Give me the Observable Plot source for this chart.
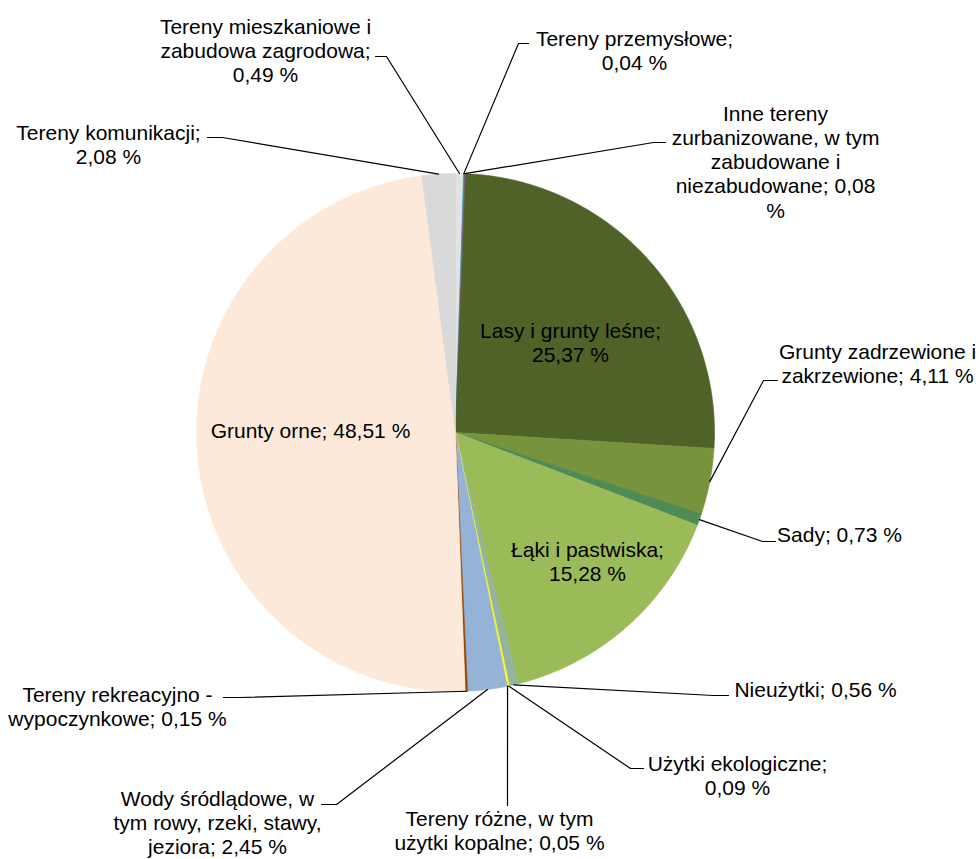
<!DOCTYPE html>
<html>
<head>
<meta charset="utf-8">
<script src="https://cdn.jsdelivr.net/npm/d3@7"></script>
<script src="https://cdn.jsdelivr.net/npm/@observablehq/plot@0.6"></script>
<style>
  html, body { margin: 0; padding: 0; background: #ffffff; }
  #chart { width: 979px; height: 859px; }
</style>
</head>
<body>
<div id="chart"></div>
<script>
// ---- data (clockwise from 12 o'clock) ----
const categories = [
  "Tereny mieszkaniowe i zabudowa zagrodowa",
  "Tereny przemysłowe",
  "Inne tereny zurbanizowane, w tym zabudowane i niezabudowane",
  "Lasy i grunty leśne",
  "Grunty zadrzewione i zakrzewione",
  "Sady",
  "Łąki i pastwiska",
  "Nieużytki",
  "Użytki ekologiczne",
  "Tereny różne, w tym użytki kopalne",
  "Wody śródlądowe, w tym rowy, rzeki, stawy, jeziora",
  "Tereny rekreacyjno - wypoczynkowe",
  "Grunty orne",
  "Tereny komunikacji"
];
const values = [0.49, 0.04, 0.08, 25.37, 4.11, 0.73, 15.28, 0.56, 0.09, 0.05, 2.45, 0.15, 48.51, 2.08];
const labelTexts = [
  "Tereny mieszkaniowe i\nzabudowa zagrodowa;\n0,49 %",
  "Tereny przemysłowe;\n0,04 %",
  "Inne tereny\nzurbanizowane, w tym\nzabudowane i\nniezabudowane; 0,08\n%",
  "Lasy i grunty leśne;\n25,37 %",
  "Grunty zadrzewione i\nzakrzewione; 4,11 %",
  "Sady; 0,73 %",
  "Łąki i pastwiska;\n15,28 %",
  "Nieużytki; 0,56 %",
  "Użytki ekologiczne;\n0,09 %",
  "Tereny różne, w tym\nużytki kopalne; 0,05 %",
  "Wody śródlądowe, w\ntym rowy, rzeki, stawy,\njeziora; 2,45 %",
  "Tereny rekreacyjno -\nwypoczynkowe; 0,15 %",
  "Grunty orne; 48,51 %",
  "Tereny komunikacji;\n2,08 %"
];
const colors = [
  "#E2E2E2", "#4BACC6", "#8064A2", "#4F6228", "#77933C", "#4E8B55", "#9BBB59",
  "#92B4A0", "#FFFF00", "#F2E85C", "#95B3D7", "#984807", "#FDE9D9", "#D9D9D9"
];

// ---- layout (pixels) ----
const W = 979, H = 859;
const cx = 455, cy = 432, R = 259;
const labelPos = [
  [265, 50], [634, 50], [775, 161], [570, 341.5], [877, 363], [839, 534], [587, 561],
  [815, 689], [737, 774.5], [499, 830], [217, 822], [117, 705.5], [310, 430], [108, 143.5]
];
// leader: [startX, startY, elbowX] ; null = label inside slice
const leaderStart = [
  [375, 56, 386], [528, 43, 518], [665, 142, 653], null, [777, 380, 763], [775, 541, 762], null,
  [728, 695, 713], [643, 768, 630], [507, 805, 507], [321, 804, 336], [223, 697, 239], null, [207, 137, 222]
];

const arcs = d3.pie().sort(null).value(d => d)(values);

const slicePts = [];
arcs.forEach((a, i) => {
  const n = Math.max(2, Math.ceil((a.endAngle - a.startAngle) / 0.004));
  slicePts.push({name: categories[i], color: colors[i], x: cx, y: cy});
  for (let k = 0; k <= n; k++) {
    const ang = a.startAngle + (a.endAngle - a.startAngle) * k / n;
    slicePts.push({name: categories[i], color: colors[i], x: cx + R * Math.sin(ang), y: cy - R * Math.cos(ang)});
  }
  slicePts.push({name: categories[i], color: colors[i], x: cx, y: cy});
});

const leaderPts = [];
arcs.forEach((a, i) => {
  const s = leaderStart[i];
  if (!s) return;
  const mid = (a.startAngle + a.endAngle) / 2;
  leaderPts.push({name: categories[i], x: s[0], y: s[1]});
  leaderPts.push({name: categories[i], x: s[2], y: s[1]});
  leaderPts.push({name: categories[i], x: cx + R * Math.sin(mid), y: cy - R * Math.cos(mid)});
});

const labels = categories.map((c, i) => ({name: c, text: labelTexts[i], x: labelPos[i][0], y: labelPos[i][1]}));

const chart = Plot.plot({
  width: W,
  height: H,
  margin: 0,
  x: {domain: [0, W], range: [0, W], axis: null},
  y: {domain: [0, H], range: [0, H], axis: null},
  color: {type: "identity"},
  style: {fontFamily: "'Liberation Sans', Arial, sans-serif", background: "#ffffff", color: "#000"},
  marks: [
    Plot.line(slicePts, {x: "x", y: "y", z: "name", fill: "color", stroke: "color", strokeWidth: 0.6, curve: "linear"}),
    Plot.line(leaderPts, {x: "x", y: "y", z: "name", stroke: "#000", strokeWidth: 1.2, curve: "linear"}),
    Plot.text(labels, {x: "x", y: "y", text: "text", fontSize: 21, lineHeight: 1.15, textAnchor: "middle", fill: "#000"})
  ]
});
document.getElementById("chart").appendChild(chart);
</script>
</body>
</html>
